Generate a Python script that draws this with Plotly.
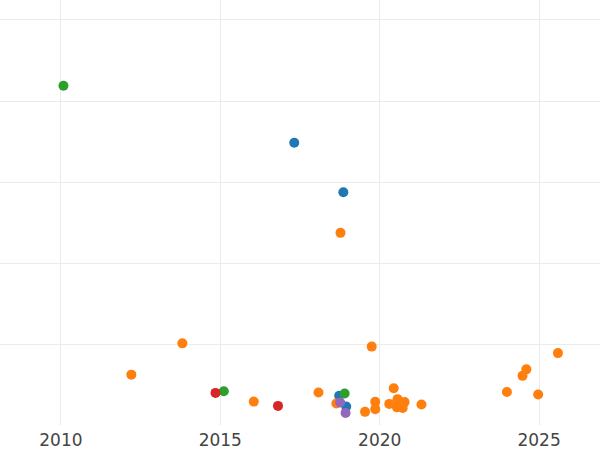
import plotly.graph_objects as go

# Data (x: year, y: value in arbitrary units)
blue_x = [2017.32, 2018.86, 2018.73, 2018.95]
blue_y = [34.9, 28.8, 3.75, 2.43]

orange_x = [2018.77, 2013.81, 2019.75, 2025.59, 2012.21, 2024.60, 2024.48, 2023.99,
            2024.97, 2016.05, 2018.08, 2018.64, 2019.54, 2019.86, 2019.86, 2020.44,
            2020.30, 2020.56, 2020.78, 2020.54, 2020.72, 2021.31]
orange_y = [23.8, 10.2, 9.8, 9.0, 6.35, 7.0, 6.2, 4.22,
            3.9, 3.03, 4.14, 2.79, 1.77, 3.0, 2.1, 4.68,
            2.75, 3.33, 2.97, 2.32, 2.25, 2.67]

green_x = [2010.08, 2015.11, 2018.90]
green_y = [41.9, 4.31, 4.03]

red_x = [2014.85, 2016.81]
red_y = [4.1, 2.5]

purple_x = [2018.76, 2018.93]
purple_y = [2.91, 1.64]

x_ticks = [2010, 2015, 2020, 2025]

series = [
    (blue_x, blue_y, "#1f77b4"),
    (orange_x, orange_y, "#ff7f0e"),
    (green_x, green_y, "#2ca02c"),
    (red_x, red_y, "#d62728"),
    (purple_x, purple_y, "#9467bd"),
]

fig = go.Figure()
for xs, ys, col in series:
    fig.add_trace(go.Scatter(x=xs, y=ys, mode="markers",
                             marker=dict(size=10, color=col),
                             showlegend=False, hoverinfo="skip"))

fig.update_layout(
    template="plotly_white",
    width=600, height=450,
    margin=dict(l=0, r=0, t=0, b=25),
    font=dict(family="DejaVu Sans", color="#444"),
)
fig.update_xaxes(range=[2008.09, 2026.91], tickvals=x_ticks,
                 ticktext=[str(t) for t in x_ticks],
                 tickfont=dict(size=17), showgrid=True, gridcolor="#ebebeb",
                 zeroline=False, ticklabelstandoff=3)
fig.update_yaxes(range=[0.15, 52.46], dtick=10, showticklabels=False,
                 showgrid=True, gridcolor="#ebebeb", zeroline=False)

fig.write_html("out.html", config={"displayModeBar": False},
               post_script="document.body.style.margin='0';document.body.style.overflow='hidden';")
